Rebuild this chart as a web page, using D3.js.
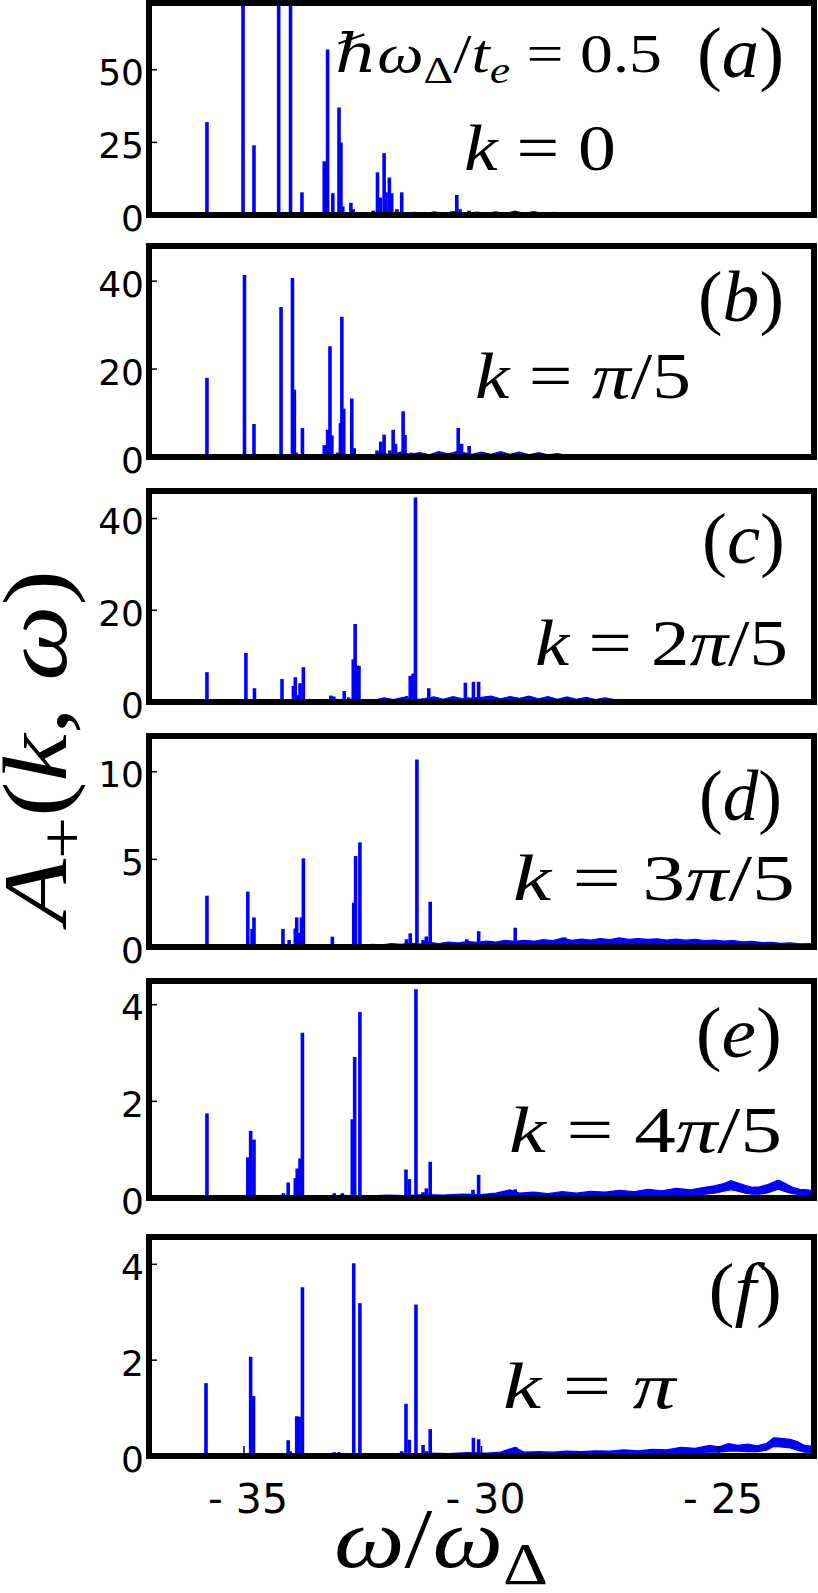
<!DOCTYPE html>
<html><head><meta charset="utf-8">
<script src="https://cdn.jsdelivr.net/npm/d3@7"></script>
<style>body{margin:0;background:#fff}svg{display:block}</style>
</head><body>
<svg id="chart" width="818" height="1593"></svg>
<script>
// ---------------- data ----------------
const omegaDomain = [-37, -23];
const omegaTicks = [-35, -30, -25];
const omegaTickLabels = ["- 35", "- 30", "- 25"];
const panelNames = ["a", "b", "c", "d", "e", "f"];
const yMaxes = [73, 48, 46, 12.04, 4.49, 4.57];
const yTicksA = [0, 25, 50];
const yTicksB = [0, 20, 40];
const yTicksC = [0, 20, 40];
const yTicksD = [0, 5, 10];
const yTicksE = [0, 2, 4];
const yTicksF = [0, 2, 4];

// spikes: [omega, A+]
const peaksA = [[-35.78,32],[-35.02,80],[-34.79,24],[-34.27,80],[-34.02,80],[-33.97,1],[-33.78,7.8],
 [-33.31,18.5],[-33.24,57],[-33.13,7.5],[-33.0,37],[-32.96,25],[-32.92,3],[-32.75,4.2],[-32.70,2],
 [-32.28,1.5],[-32.19,14.7],[-32.13,6],[-32.05,21.3],[-32.01,7.8],[-31.94,12.9],[-31.89,7.5],[-31.78,2],[-31.68,7.8],
 [-30.52,6.9],[-30.45,2],[-30.26,1.5]];
const peaksB = [[-35.78,18],[-34.99,41.4],[-34.79,7.5],[-34.22,34.1],[-33.98,40.7],[-33.94,15.3],[-33.9,1],[-33.77,6.6],
 [-33.31,2.7],[-33.24,6.2],[-33.19,25.2],[-33.15,4.9],[-33.03,1],[-32.97,7.7],[-32.94,31.9],[-32.9,11],[-32.73,13.3],[-32.68,2],
 [-32.2,1.5],[-32.12,3.5],[-32.05,5.1],[-31.93,1.5],[-31.86,6.2],[-31.81,3],[-31.65,10.4],[-31.61,5],[-31.48,1],
 [-30.49,6.6],[-30.42,3],[-30.26,2.5]];
const peaksC = [[-35.78,6.5],[-34.96,10.7],[-34.78,3.0],[-34.2,5.0],[-33.96,3.5],[-33.92,5.4],[-33.86,1.5],[-33.82,4.1],[-33.75,7.6],
 [-33.17,1.4],[-33.11,1.2],[-33.07,0.7],[-32.89,2.4],[-32.8,1],[-32.7,9.3],[-32.66,17.0],[-32.62,7.9],[-32.58,7.9],
 [-31.58,1.3],[-31.5,5.7],[-31.44,6.2],[-31.39,44.6],[-31.11,3.0],[-30.34,4.2],[-30.3,1],[-30.17,4.4],[-30.11,1],[-30.06,4.4],[-26.09,0.5]];
const peaksD = [[-35.78,2.93],[-34.92,3.16],[-34.83,1.03],[-34.79,1.69],[-34.18,1.03],[-34.05,0.4],[-33.92,1.06],[-33.89,1.69],[-33.84,0.8],[-33.79,1.69],[-33.75,5.06],
 [-33.14,0.59],[-32.69,2.53],[-32.65,5.19],[-32.56,5.97],
 [-31.58,0.44],[-31.5,0.78],[-31.36,10.7],[-31.23,0.4],[-31.16,0.6],[-31.08,2.58],
 [-30.31,0.44],[-30.06,0.9],[-29.29,1.1],[-28.25,0.55]];
const peaksE = [[-35.78,1.75],[-34.92,0.84],[-34.86,1.39],[-34.79,1.21],[-34.17,0.1],[-34.07,0.32],[-33.92,0.41],[-33.88,0.61],[-33.82,0.82],[-33.77,3.42],
 [-33.1,0.1],[-32.93,0.1],[-32.72,1.63],[-32.67,2.92],[-32.56,3.85],
 [-31.59,0.59],[-31.52,0.39],[-31.38,4.32],[-31.23,0.12],[-31.16,0.2],[-31.08,0.75],
 [-30.18,0.17],[-30.06,0.48],[-29.29,0.18]];
const peaksF = [[-35.8,1.52],[-34.86,2.07],[-34.8,1.25],[-34.07,0.33],[-34.03,0.1],[-33.89,0.83],[-33.84,0.82],[-33.77,3.52],
 [-33.1,0.08],[-33.0,0.08],[-32.69,4.02],[-32.56,3.19],
 [-31.68,0.1],[-31.59,1.09],[-31.52,0.34],[-31.38,3.16],[-31.23,0.23],[-31.16,0.1],[-31.08,0.56],
 [-30.17,0.38],[-30.06,0.35],[-29.27,0.18]];

// continuum band (noisy background): [omega, low, high]
const bandA = [[-32.4,0,0.3],[-32.2,0,0.8],[-32.0,0,0.4],[-31.8,0,1.0],[-31.6,0,0.5],[-31.4,0,0.9],[-31.2,0,0.4],[-31.0,0,1.1],
 [-30.8,0,0.6],[-30.6,0,1.2],[-30.3,0,0.5],[-30.1,0,1.0],[-29.9,0,0.6],[-29.7,0,1.1],[-29.5,0,0.5],[-29.3,0,1.3],
 [-29.1,0,0.6],[-28.9,0,1.2],[-28.7,0,0.5],[-28.5,0,0.9],[-28.3,0,0.4],[-28.1,0,0.5]];
const bandB = [[-32.3,0,0.4],[-32.1,0,0.9],[-31.9,0,0.5],[-31.7,0,1.1],[-31.5,0,0.6],[-31.3,0,1.0],[-31.1,0,0.5],[-30.9,0,1.2],
 [-30.7,0,0.7],[-30.5,0,1.3],[-30.2,0,0.6],[-30.0,0,1.1],[-29.8,0,0.6],[-29.6,0,1.2],[-29.4,0,0.6],[-29.2,0,1.1],
 [-29.0,0,0.5],[-28.8,0,1.0],[-28.6,0,0.5],[-28.4,0,0.8],[-28.2,0,0.4],[-28.0,0,0.5]];
const bandC = [[-32.25,0,0.4],[-32.05,0,0.9],[-31.85,0,0.5],[-31.65,0,1.0],[-31.3,0,0.6],[-31.0,0,1.1],[-30.8,0,0.6],[-30.6,0,1.2],
 [-30.4,0,0.7],[-30.0,0,1.0],[-29.8,0,1.3],[-29.6,0,0.7],[-29.4,0,1.2],[-29.2,0,0.8],[-29.0,0,1.3],[-28.8,0,0.7],
 [-28.6,0,1.2],[-28.4,0,0.6],[-28.2,0,1.1],[-28.0,0,0.6],[-27.8,0,1.0],[-27.6,0,0.5],[-27.4,0,0.9],[-27.2,0,0.5],[-27.0,0,0.4]];
const bandD = [[-32.5,0,0.1],[-32.3,0,0.15],[-32.1,0,0.12],[-31.9,0,0.2],[-31.7,0,0.15],[-31.5,0,0.22],[-31.3,0,0.17],[-31.1,0,0.26],
 [-30.9,0,0.2],[-30.7,0,0.28],[-30.5,0.02,0.23],[-30.3,0.02,0.32],[-30.1,0.03,0.26],[-29.9,0.03,0.34],[-29.7,0.04,0.28],[-29.5,0.04,0.38],
 [-29.3,0.05,0.32],[-29.1,0.05,0.38],[-28.9,0.06,0.33],[-28.7,0.06,0.42],[-28.5,0.07,0.36],[-28.3,0.07,0.5],[-28.1,0.08,0.38],[-27.9,0.08,0.45],
 [-27.7,0.08,0.4],[-27.5,0.08,0.48],[-27.3,0.08,0.42],[-27.1,0.08,0.52],[-26.9,0.08,0.43],[-26.7,0.08,0.48],[-26.5,0.08,0.43],[-26.3,0.08,0.47],
 [-26.1,0.07,0.4],[-25.9,0.07,0.45],[-25.7,0.07,0.39],[-25.5,0.06,0.43],[-25.3,0.06,0.37],[-25.1,0.05,0.4],[-24.9,0.05,0.34],[-24.7,0.05,0.37],
 [-24.5,0.04,0.3],[-24.3,0.04,0.32],[-24.1,0.04,0.25],[-23.9,0.03,0.27],[-23.7,0.03,0.21],[-23.5,0.03,0.23],[-23.3,0.03,0.18],[-23.1,0.03,0.2],[-23,0.03,0.17]];
const bandE = [[-32.4,0,0.04],[-32.0,0,0.06],[-31.6,0,0.05],[-31.2,0,0.07],[-30.8,0,0.06],[-30.4,0,0.08],[-30.0,0,0.07],[-29.7,0,0.1],
 [-29.4,0,0.17],[-29.2,0,0.1],[-28.9,0,0.12],[-28.6,0,0.09],[-28.3,0.01,0.13],[-28.0,0.01,0.1],[-27.7,0.02,0.14],[-27.4,0.02,0.12],
 [-27.1,0.03,0.16],[-26.8,0.03,0.13],[-26.5,0.04,0.18],[-26.2,0.04,0.15],[-25.9,0.05,0.2],[-25.6,0.06,0.17],[-25.3,0.08,0.22],[-25.1,0.1,0.25],
 [-24.9,0.14,0.3],[-24.75,0.17,0.36],[-24.6,0.14,0.31],[-24.45,0.1,0.26],[-24.3,0.08,0.22],[-24.15,0.08,0.23],[-24.0,0.1,0.27],[-23.85,0.15,0.33],
 [-23.75,0.18,0.37],[-23.6,0.13,0.3],[-23.45,0.09,0.22],[-23.3,0.07,0.18],[-23.15,0.06,0.17],[-23,0.06,0.15]];
const bandF = [[-32.3,0,0.03],[-31.9,0,0.05],[-31.5,0,0.04],[-31.1,0,0.06],[-30.7,0,0.05],[-30.3,0,0.07],[-29.9,0,0.06],[-29.6,0,0.08],
 [-29.3,0,0.18],[-29.1,0,0.08],[-28.8,0,0.09],[-28.5,0.01,0.08],[-28.2,0.01,0.1],[-27.9,0.01,0.09],[-27.6,0.02,0.11],[-27.3,0.02,0.1],
 [-27.0,0.03,0.13],[-26.7,0.03,0.11],[-26.4,0.04,0.14],[-26.1,0.05,0.13],[-25.8,0.06,0.18],[-25.5,0.07,0.16],[-25.2,0.08,0.22],[-25.0,0.08,0.19],
 [-24.8,0.1,0.26],[-24.6,0.1,0.22],[-24.4,0.09,0.25],[-24.2,0.09,0.21],[-24.0,0.12,0.26],[-23.85,0.2,0.38],[-23.7,0.19,0.37],[-23.5,0.17,0.35],
 [-23.35,0.12,0.3],[-23.2,0.08,0.22],[-23,0.08,0.2]];

const kLabels = [
 [["k","i"],[" = ","r"],["0","r"]],
 [["k","i"],[" = ","r"],["π","i"],["/5","r"]],
 [["k","i"],[" = 2","r"],["π","i"],["/5","r"]],
 [["k","i"],[" = 3","r"],["π","i"],["/5","r"]],
 [["k","i"],[" = 4","r"],["π","i"],["/5","r"]],
 [["k","i"],[" = ","r"],["π","i"]]
];
const paramLabel = [["ℏω","i"],["Δ","sr"],["/","r"],["t","i"],["e","si"],[" = 0.5","r"]];

// ---------------- layout ----------------
const panels = [
 {top:3, bottom:215, peaks:peaksA, band:bandA, ticks:yTicksA},
 {top:246, bottom:457, peaks:peaksB, band:bandB, ticks:yTicksB},
 {top:491, bottom:702, peaks:peaksC, band:bandC, ticks:yTicksC},
 {top:736, bottom:947, peaks:peaksD, band:bandD, ticks:yTicksD},
 {top:981, bottom:1198, peaks:peaksE, band:bandE, ticks:yTicksE},
 {top:1237, bottom:1456, peaks:peaksF, band:bandF, ticks:yTicksF}
];
const kPos = [[464,616,170],[475,691,398],[535,788,665],[509,795,900],[509,782,1152],[498,678,1408]];
const letterPos = [[697,784,27],[698,784,271],[702,785,513],[699,782,770],[691,782,1007],[683,782,1263]];

const L = 149, R = 814;
const BLUE = "#0000ff";
const svg = d3.select("#chart");
const x = d3.scaleLinear().domain(omegaDomain).range([L, R]);

const serif = "'Liberation Serif','DejaVu Serif',serif";
const sans = "'DejaVu Sans',sans-serif";

function addMath(parent, parts, fs) {
  const t = parent.append("text").attr("font-family", serif).attr("font-size", fs).attr("fill", "#000");
  let sub = false;
  parts.forEach(([s, kind]) => {
    const ts = t.append("tspan").text(s);
    ts.attr("font-style", kind.includes("i") ? "italic" : "normal");
    if (kind.startsWith("s")) {
      ts.attr("font-size", fs * 0.7);
      if (!sub) ts.attr("dy", fs * 0.2);
      sub = true;
    } else {
      if (sub) ts.attr("dy", -fs * 0.2);
      sub = false;
    }
  });
  return t;
}
function fitH(t, left, right, baseline, lo = 0, hi = 10) {
  t.attr("x", 0).attr("y", 0);
  const b = t.node().getBBox();
  let sx = (right - left) / b.width;
  sx = Math.max(lo, Math.min(hi, sx));
  const tx = right - (b.x + b.width) * sx;
  t.attr("transform", `translate(${tx},${baseline}) scale(${sx},1)`);
}

const defs = svg.append("defs");

panels.forEach((p, i) => {
  const y = d3.scaleLinear().domain([0, yMaxes[i]]).range([p.bottom, p.top]);
  const cid = "clip" + i;
  defs.append("clipPath").attr("id", cid).append("rect")
    .attr("x", L).attr("y", p.top).attr("width", R - L).attr("height", p.bottom - p.top);
  const g = svg.append("g").attr("clip-path", `url(#${cid})`);

  const area = d3.area().x(d => x(d[0])).y0(d => y(d[1])).y1(d => y(d[2]));
  g.append("path").datum(p.band).attr("d", area).attr("fill", BLUE)
    .attr("stroke", BLUE).attr("stroke-width", 1.2).attr("stroke-linejoin", "miter");

  g.selectAll("line.spk").data(p.peaks).join("line").attr("class", "spk")
    .attr("x1", d => x(d[0])).attr("x2", d => x(d[0]))
    .attr("y1", y(0)).attr("y2", d => y(d[1]))
    .attr("stroke", BLUE).attr("stroke-width", 3.6);

  const tg = svg.append("g");
  p.ticks.forEach(v => {
    tg.append("line").attr("x1", L).attr("x2", L + 8).attr("y1", y(v)).attr("y2", y(v))
      .attr("stroke", "#000").attr("stroke-width", 1.5);
    tg.append("text").attr("x", 144).attr("y", y(v) + 3).attr("text-anchor", "end")
      .attr("dominant-baseline", "central").attr("font-family", sans).attr("font-size", 36)
      .attr("fill", "#000").text(v);
  });

  svg.append("rect").attr("x", L).attr("y", p.top).attr("width", R - L).attr("height", p.bottom - p.top)
    .attr("fill", "none").attr("stroke", "#000").attr("stroke-width", 6);

  const kt = addMath(svg, kLabels[i], 66);
  fitH(kt, kPos[i][0], kPos[i][1], kPos[i][2], 0.9, 1.3);
  const lt = addMath(svg, [["(", "r"], [panelNames[i], "i"], [")", "r"]], 72);
  fitH(lt, letterPos[i][0], letterPos[i][1], letterPos[i][2] + 50, 0.95, 1.08);

  if (i === 5) {
    omegaTicks.forEach((v, j) => {
      svg.append("line").attr("x1", x(v)).attr("x2", x(v)).attr("y1", p.bottom).attr("y2", p.bottom - 10)
        .attr("stroke", "#000").attr("stroke-width", 1.5);
      svg.append("text").attr("x", x(v) + 4).attr("y", 1513).attr("text-anchor", "middle")
        .attr("font-family", sans).attr("font-size", 41).attr("fill", "#000").text(omegaTickLabels[j]);
    });
  }
});

const pt = addMath(svg, paramLabel, 54);
fitH(pt, 335, 662, 72);

const xl = addMath(svg, [["ω", "i"], ["/", "r"], ["ω", "i"], ["Δ", "sr"]], 84);
fitH(xl, 334, 548, 1567);

const yg = svg.append("g").attr("transform", "translate(66,930) rotate(-90)");
const yl = addMath(yg, [["A", "i"], ["+", "sr"], ["(", "r"], ["k", "i"], [",", "r"], [" ", "r"], ["ω", "i"], [")", "r"]], 90);
fitH(yl, 0, 360, 0);
</script>
</body></html>
